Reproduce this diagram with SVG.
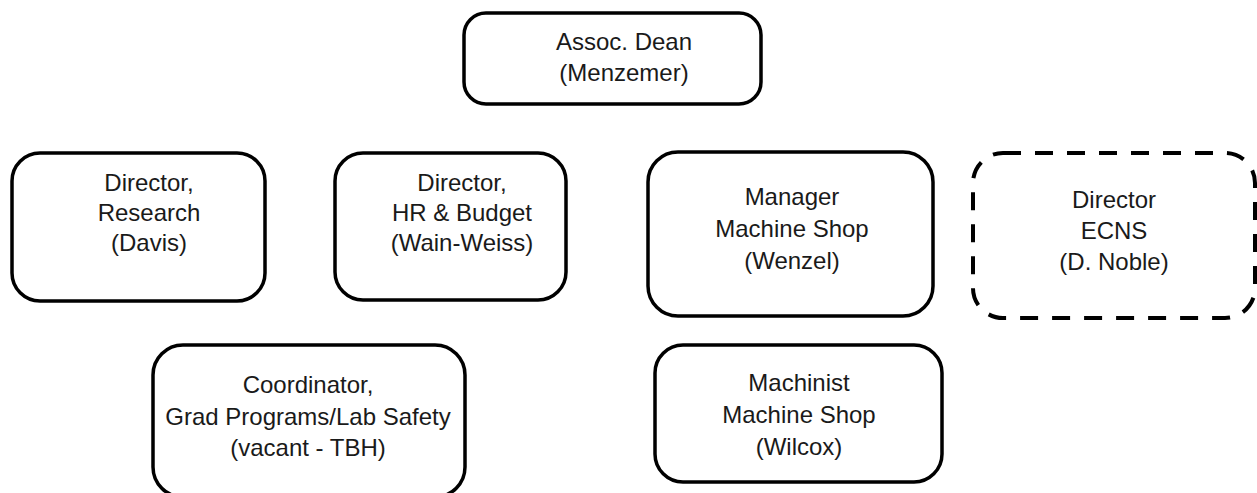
<svg xmlns="http://www.w3.org/2000/svg" width="1257" height="493" viewBox="0 0 1257 493">
<style>
.box{fill:#fff;stroke:#000;stroke-width:3.5}
.dash{fill:#fff;stroke:#000;stroke-width:4;stroke-dasharray:18 14}
.t{font-family:"Liberation Sans",Arial,sans-serif;font-size:24px;fill:#1a1a1a;text-anchor:middle}
</style>
<rect width="1257" height="493" fill="#fff"/>
<g id="connectors"></g>
<g id="assoc-dean">
<rect class="box" x="464" y="13" width="297" height="91" rx="22"/>
<text class="t" x="624" y="50">Assoc. Dean</text>
<text class="t" x="624" y="81">(Menzemer)</text>
</g>
<g id="director-research">
<rect class="box" x="12" y="153" width="253" height="148" rx="28"/>
<text class="t" x="149" y="191">Director,</text>
<text class="t" x="149" y="221">Research</text>
<text class="t" x="149" y="251">(Davis)</text>
</g>
<g id="director-hr">
<rect class="box" x="335" y="153" width="231" height="147" rx="28"/>
<text class="t" x="462" y="191">Director,</text>
<text class="t" x="462" y="221">HR &amp; Budget</text>
<text class="t" x="462" y="251">(Wain-Weiss)</text>
</g>
<g id="manager-machine-shop">
<rect class="box" x="648" y="152" width="285" height="164" rx="30"/>
<text class="t" x="792" y="205">Manager</text>
<text class="t" x="792" y="237">Machine Shop</text>
<text class="t" x="792" y="269">(Wenzel)</text>
</g>
<g id="director-ecns">
<rect class="dash" x="973" y="153" width="282" height="165" rx="30"/>
<text class="t" x="1114" y="208">Director</text>
<text class="t" x="1114" y="239">ECNS</text>
<text class="t" x="1114" y="270">(D. Noble)</text>
</g>
<g id="coordinator">
<rect class="box" x="153" y="345" width="312" height="152" rx="30"/>
<text class="t" x="308" y="393">Coordinator,</text>
<text class="t" x="308" y="425">Grad Programs/Lab Safety</text>
<text class="t" x="308" y="456">(vacant - TBH)</text>
</g>
<g id="machinist">
<rect class="box" x="655" y="345" width="287" height="137" rx="28"/>
<text class="t" x="799" y="391">Machinist</text>
<text class="t" x="799" y="423">Machine Shop</text>
<text class="t" x="799" y="455">(Wilcox)</text>
</g>
</svg>
